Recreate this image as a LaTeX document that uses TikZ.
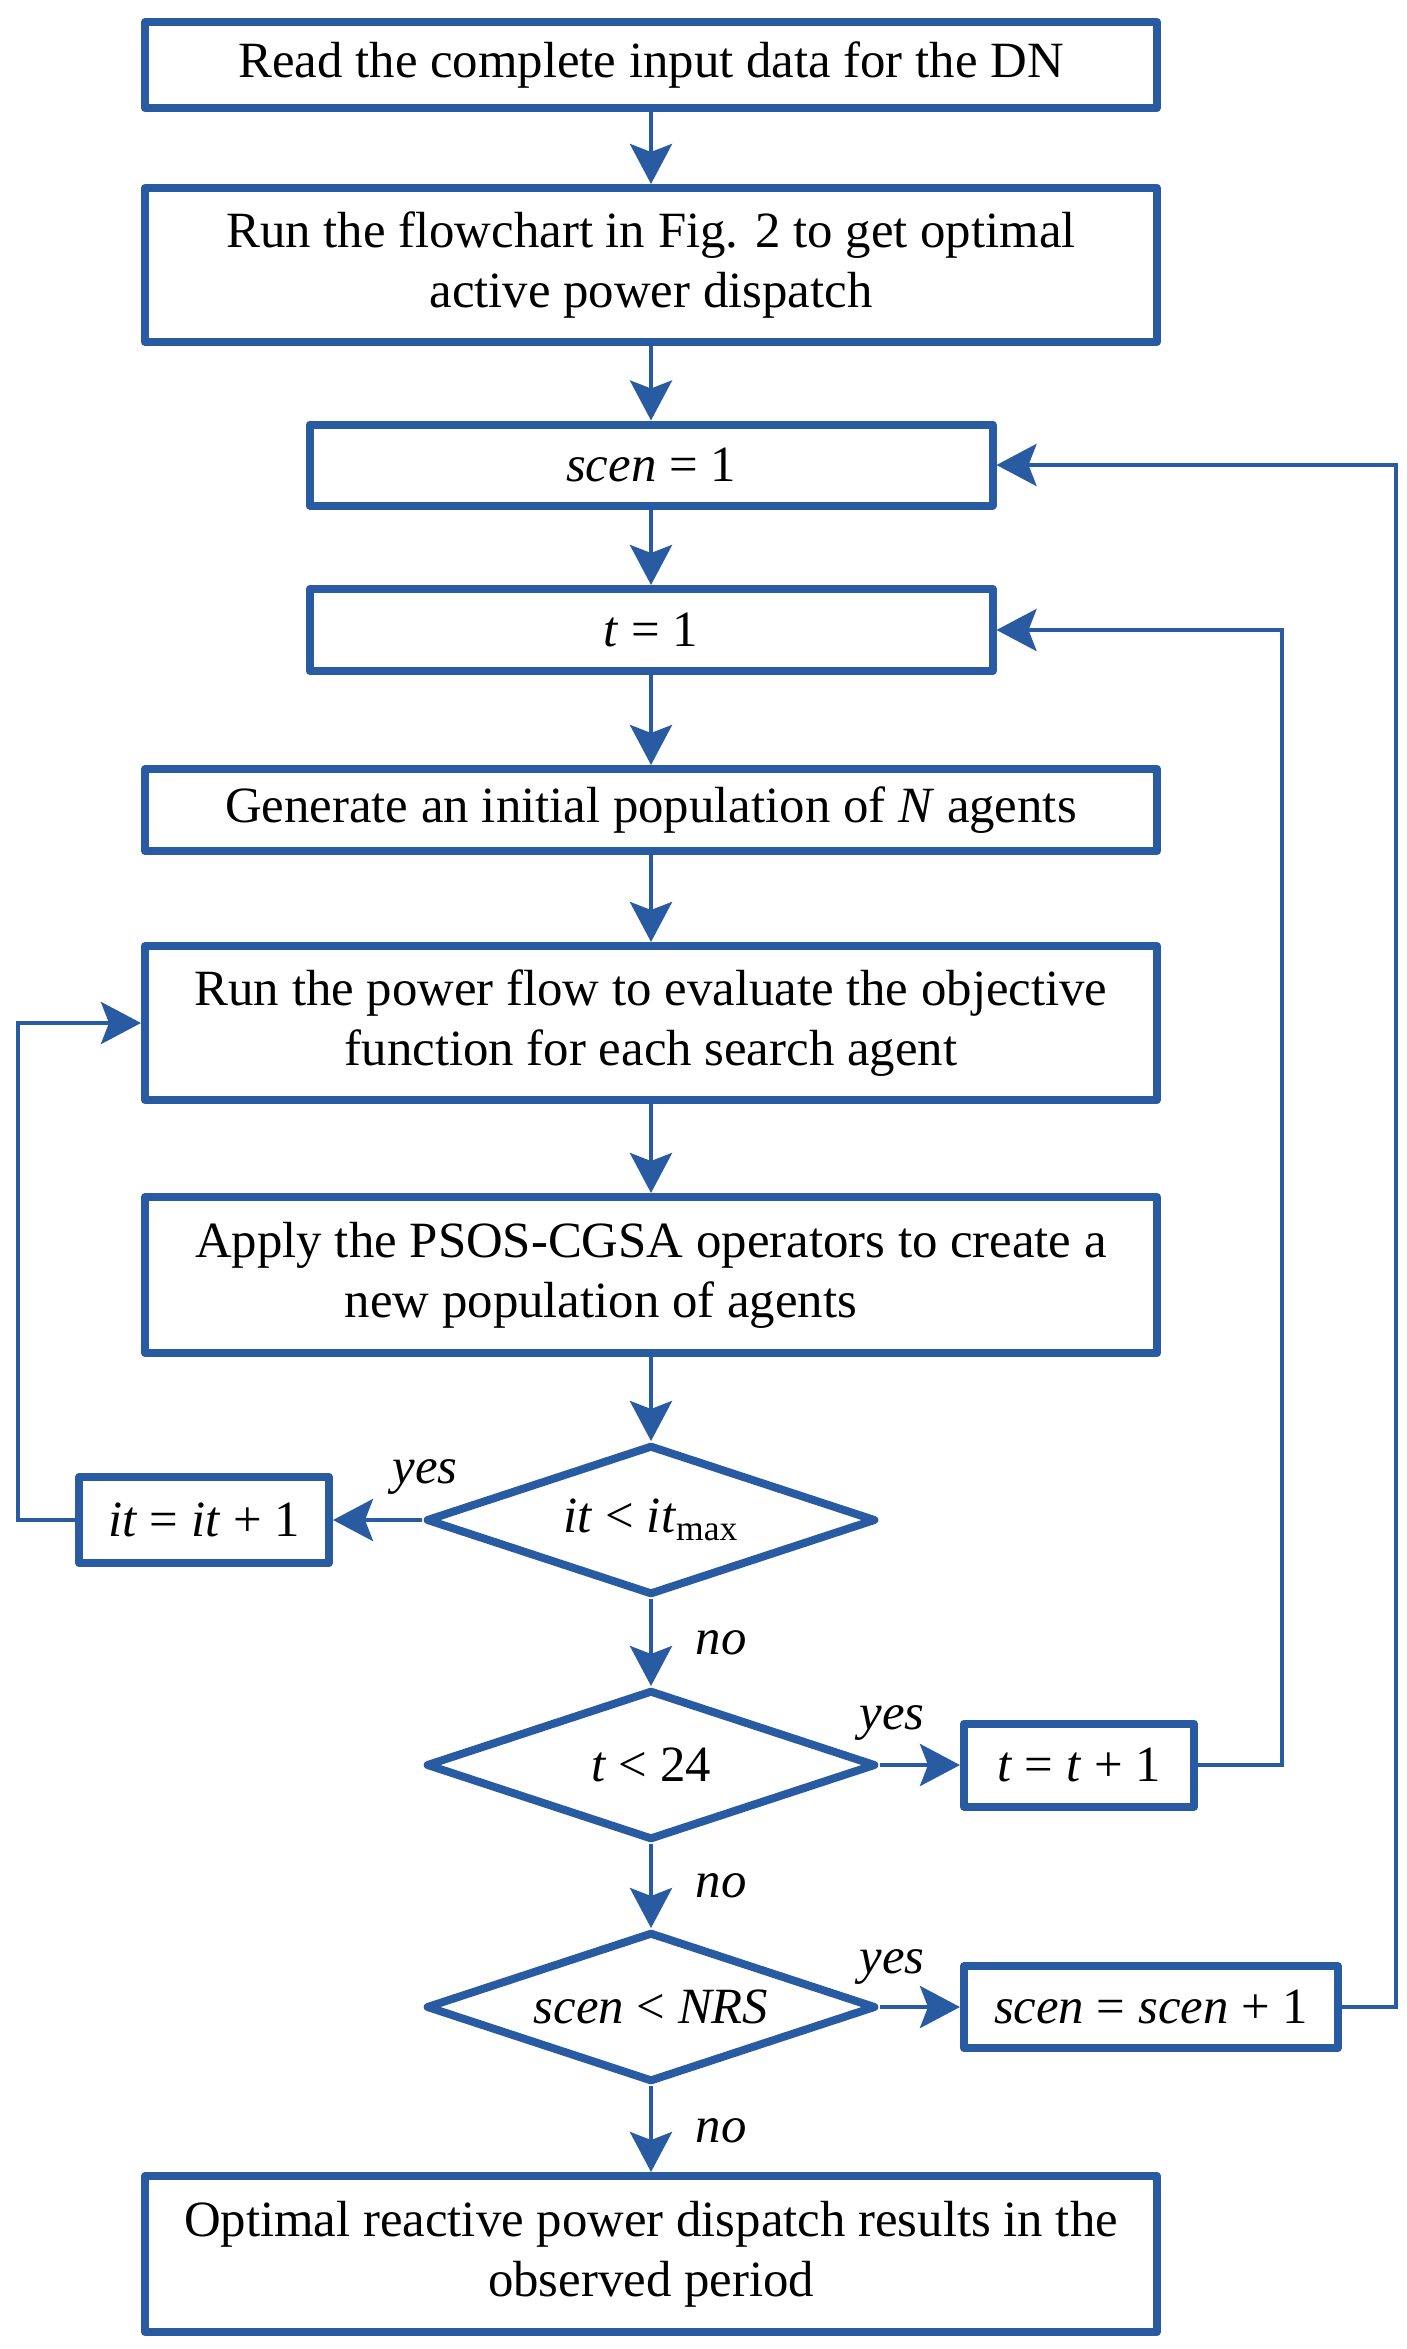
\documentclass[tikz,border=0pt]{standalone}
\usepackage{fontspec}
\setmainfont{Liberation Serif}
\usetikzlibrary{shapes.geometric,arrows.meta}
\definecolor{fblue}{RGB}{41,91,163}
\begin{document}
\begin{tikzpicture}[x=0.5pt,y=-0.5pt,
  box/.style={draw=fblue,line width=4pt,line join=round,rectangle,inner sep=0pt,align=center,
     font=\fontsize{25.4}{30}\selectfont,text=black},
  dia/.style={draw=fblue,line width=4pt,line join=round,diamond,aspect=3.0,inner sep=0pt,
     minimum width=225pt,minimum height=75pt,font=\fontsize{25.4}{30}\selectfont,text=black},
  arr/.style={draw=fblue,line width=2.3pt,-{Stealth[length=20pt,width=21pt,inset=4pt]}},
  lab/.style={font=\fontsize{25.4}{30}\selectfont\itshape,text=black,inner sep=0pt}]
\useasboundingbox (0,0) rectangle (1407,2349);
\node[box,minimum width=506pt,minimum height=43pt] (b1) at (651,65) {Read the complete input data for the DN};
\node[box,minimum width=506pt,minimum height=77pt] (b2) at (651,265) {Run the flowchart in Fig. 2 to get optimal\\active power dispatch};
\node[box,minimum width=341.5pt,minimum height=40.5pt] (b3) at (651,465) {\textit{scen} = 1};
\node[box,minimum width=341.5pt,minimum height=41pt] (b4) at (651,630) {\textit{t} = 1};
\node[box,minimum width=506pt,minimum height=41pt] (b5) at (651,810) {Generate an initial population of \textit{N} agents};
\node[box,minimum width=506pt,minimum height=77pt] (b6) at (651,1023) {Run the power flow to evaluate the objective\\function for each search agent};
\node[box,minimum width=506pt,minimum height=78pt] (b7) at (651,1275) {Apply the PSOS-CGSA operators to create a\\new population of agents\rule{50pt}{0pt}};
\node[dia] (d1) at (651,1520) {\textit{it} < \textit{it}\textsubscript{max}};
\node[box,minimum width=125pt,minimum height=43pt] (itb) at (204,1520) {\textit{it} = \textit{it} + 1};
\node[dia] (d2) at (651,1765) {\textit{t} < 24};
\node[box,minimum width=115pt,minimum height=41.5pt] (tp1) at (1079,1765) {\textit{t} = \textit{t} + 1};
\node[dia] (d3) at (651,2007) {\textit{scen} < \textit{NRS}};
\node[box,minimum width=187pt,minimum height=41pt] (sp1) at (1151,2007) {\textit{scen} = \textit{scen} + 1};
\node[box,minimum width=506pt,minimum height=78pt] (b8) at (651,2254) {Optimal reactive power dispatch results in the\\observed period};
\coordinate (rt) at (1282,0);
\coordinate (rs) at (1396,0);
\coordinate (lf) at (18,0);
\node[lab] (y1) at (425,1477) {yes};
\node[lab] (n1) at (721,1643) {no};
\node[lab] (y2) at (892,1723) {yes};
\node[lab] (n2) at (721,1886) {no};
\node[lab] (y3) at (892,1967) {yes};
\node[lab] (n3) at (721,2131) {no};
\draw[arr] (b1) -- (b2);
\draw[arr] (b2) -- (b3);
\draw[arr] (b3) -- (b4);
\draw[arr] (b4) -- (b5);
\draw[arr] (b5) -- (b6);
\draw[arr] (b6) -- (b7);
\draw[arr] (b7) -- (d1);
\draw[arr] (d1) -- (d2);
\draw[arr] (d2) -- (d3);
\draw[arr] (d3) -- (b8);
\draw[arr] (d1) -- (itb);
\draw[arr] (d2) -- (tp1);
\draw[arr] (d3) -- (sp1);
\draw[arr] (tp1.east) -| (rt |- b4.east) -- (b4.east);
\draw[arr] (sp1.east) -| (rs |- b3.east) -- (b3.east);
\draw[arr] (itb.west) -| (lf |- b6.west) -- (b6.west);
\end{tikzpicture}
\end{document}
